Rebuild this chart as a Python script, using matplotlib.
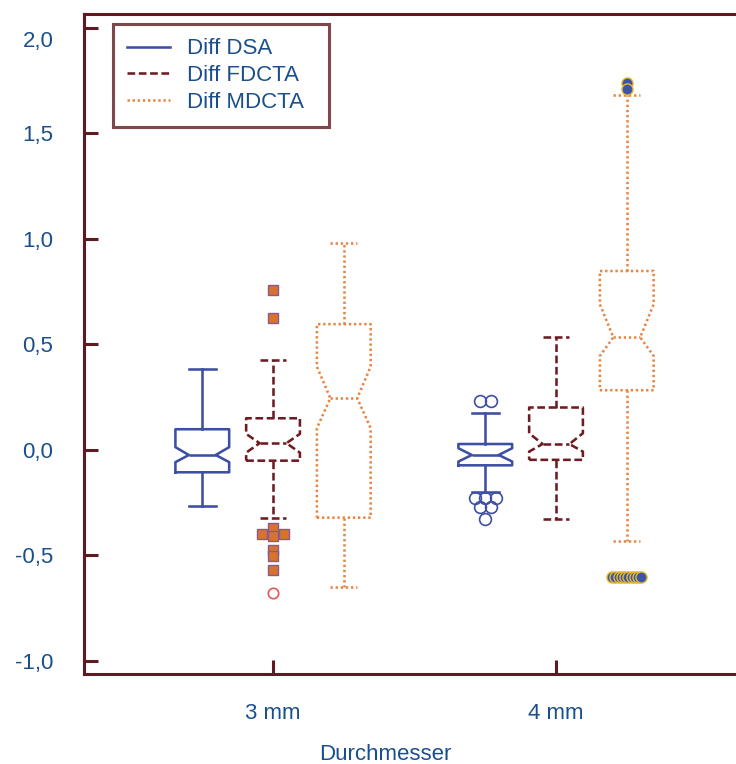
import numpy as np
import matplotlib
matplotlib.use("Agg")
import matplotlib.pyplot as plt
from matplotlib.lines import Line2D
from matplotlib.transforms import ScaledTranslation

plt.rcParams['font.family'] = ['Liberation Sans', 'DejaVu Sans']

# ---------------- data ----------------
categories = ["3 mm", "4 mm"]
series = ["Diff DSA", "Diff FDCTA", "Diff MDCTA"]

dsa_whislo = [-0.267, -0.201]
dsa_q1 = [-0.106, -0.073]
dsa_med = [-0.024, -0.024]
dsa_q3 = [0.098, 0.028]
dsa_whishi = [0.384, 0.175]
dsa_cilo = [-0.058, -0.055]
dsa_cihi = [0.013, 0.008]

fdcta_whislo = [-0.325, -0.329]
fdcta_q1 = [-0.051, -0.047]
fdcta_med = [0.032, 0.028]
fdcta_q3 = [0.150, 0.201]
fdcta_whishi = [0.427, 0.537]
fdcta_cilo = [-0.013, -0.008]
fdcta_cihi = [0.076, 0.079]

mdcta_whislo = [-0.651, -0.430]
mdcta_q1 = [-0.321, 0.283]
mdcta_med = [0.245, 0.534]
mdcta_q3 = [0.596, 0.848]
mdcta_whishi = [0.981, 1.681]
mdcta_cilo = [0.103, 0.445]
mdcta_cihi = [0.395, 0.690]

# outliers
dsa_out_4mm = [0.232, 0.232, -0.229, -0.229, -0.229, -0.272, -0.272, -0.329]
fdcta_ext_3mm = [0.757, 0.627, -0.371, -0.398, -0.398, -0.410, -0.474, -0.502, -0.569]
fdcta_out_3mm = [-0.679]
mdcta_out_4mm = [1.738, 1.709] + [-0.603] * 10

y_ticks = [-1.0, -0.5, 0.0, 0.5, 1.0, 1.5, 2.0]

# ---------------- style ----------------
C_DSA = '#3d4fa3'
C_FD = '#6e1c22'
C_MD = '#e8843f'
C_SPINE = '#5e1a1e'
C_TEXT = '#1b4f8c'
FS = 16

# horizontal jitter slots (layout only, in pixels)
dsa4_slots_px = [-5.3, 5.3, -10.7, 0, 10.7, -5.3, 5.3, 0]
fd3_slots_px = [0, 0, 0, -11, 11, 0, 0, 0, 0]
md4_slots_px = [0, 0] + list(np.linspace(-14.5, 14.5, 10))

fig = plt.figure(figsize=(7.36, 7.64), dpi=100)
ax = fig.add_axes([84 / 736, 90 / 764, 652 / 736, 660 / 764])
ax.set_xlim(0.332, 2.636)
ax.set_ylim(-1.062, 2.066)

px_per_x = (652 / 100 * fig.dpi) / (2.636 - 0.332)

offset = 0.25
width = 0.19
centers = np.arange(1, len(categories) + 1)


def stats_list(whislo, q1, med, q3, whishi, cilo, cihi):
    out = []
    for i in range(len(categories)):
        out.append(dict(whislo=whislo[i], q1=q1[i], med=med[i], q3=q3[i],
                        whishi=whishi[i], cilo=cilo[i], cihi=cihi[i], fliers=[]))
    return out


LS_FD = (0, (3, 1.4))
LS_MD = (0, (0.9, 1.1))
groups = [
    (stats_list(dsa_whislo, dsa_q1, dsa_med, dsa_q3, dsa_whishi, dsa_cilo, dsa_cihi), -offset, C_DSA, '-'),
    (stats_list(fdcta_whislo, fdcta_q1, fdcta_med, fdcta_q3, fdcta_whishi, fdcta_cilo, fdcta_cihi), 0.0, C_FD, LS_FD),
    (stats_list(mdcta_whislo, mdcta_q1, mdcta_med, mdcta_q3, mdcta_whishi, mdcta_cilo, mdcta_cihi), offset, C_MD, LS_MD),
]

lw = 1.85
for stats, off, col, ls in groups:
    props = dict(color=col, linewidth=lw, linestyle=ls)
    ax.bxp(stats, positions=centers + off, widths=width, shownotches=True,
           showfliers=False, boxprops=props, whiskerprops=props,
           capprops=props, medianprops=props, manage_ticks=False)


def plot_out(xc, vals, slots, **kw):
    xs = [xc + s / px_per_x for s in slots]
    ax.plot(xs, vals, linestyle='none', zorder=5, clip_on=False, **kw)


plot_out(2 - offset, dsa_out_4mm, dsa4_slots_px, marker='o', markersize=8.5,
         markerfacecolor='none', markeredgecolor=C_DSA, markeredgewidth=1.2)
plot_out(1.0, fdcta_ext_3mm, fd3_slots_px, marker='s', markersize=7.5,
         markerfacecolor='#d9722f', markeredgecolor='#8a5a8e', markeredgewidth=1.0)
plot_out(1.0, fdcta_out_3mm, [0], marker='o', markersize=7.5,
         markerfacecolor='none', markeredgecolor='#e05a5a', markeredgewidth=1.2)
plot_out(2 + offset, mdcta_out_4mm, md4_slots_px, marker='o', markersize=8.0,
         markerfacecolor='#3b56a6', markeredgecolor='#e8b830', markeredgewidth=1.0)

# axes styling
for side in ['left', 'bottom', 'top']:
    ax.spines[side].set_color(C_SPINE)
    ax.spines[side].set_linewidth(2.2)
ax.spines['right'].set_visible(False)

ax.set_xticks(centers)
ax.set_xticklabels(categories)
ax.set_yticks(y_ticks)
ax.set_yticklabels([f"{v:.1f}".replace('.', ',') for v in y_ticks])
ax.tick_params(axis='both', direction='in', length=10, width=2.2, color=C_SPINE,
               labelcolor=C_TEXT, labelsize=FS)
ax.tick_params(axis='y', pad=22)
ax.tick_params(axis='x', pad=21)

# shift the top label down as in the reference
lab = ax.get_yticklabels()[-1]
lab.set_transform(lab.get_transform() + ScaledTranslation(0, -11 / 100, fig.dpi_scale_trans))

ax.set_xlabel("Durchmesser", color=C_TEXT, fontsize=FS)
ax.xaxis.set_label_coords((385 - 84) / 652, (674 - 754) / 660)
ax.xaxis.label.set_va('center')

handles = [Line2D([], [], color=C_DSA, lw=lw, linestyle='-'),
           Line2D([], [], color=C_FD, lw=lw, linestyle=LS_FD),
           Line2D([], [], color=C_MD, lw=lw, linestyle=LS_MD)]
leg = ax.legend(handles, series, loc='upper left',
                bbox_to_anchor=(29 / 652, 0.0, 216 / 652, (674 - 24) / 660),
                mode='expand', borderaxespad=0, fontsize=FS, frameon=True,
                fancybox=False, handlelength=1.9, handletextpad=0.8,
                labelspacing=0.25, borderpad=0.65)
leg.get_frame().set_edgecolor(C_SPINE)
leg.get_frame().set_linewidth(2.2)
for t in leg.get_texts():
    t.set_color(C_TEXT)

fig.savefig("out.png", dpi=100)
